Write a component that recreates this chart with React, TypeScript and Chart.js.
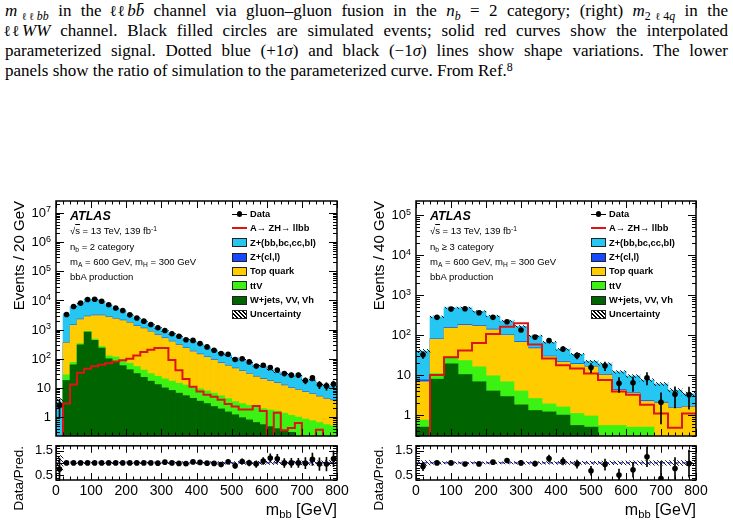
import React, { useEffect, useRef } from 'react';
import { Chart, registerables } from 'chart.js';

Chart.register(...registerables);

const SANS = "'Liberation Sans', Arial, Helvetica, sans-serif";
const SERIF = "'Liberation Serif', 'Times New Roman', serif";
Chart.defaults.font.family = SANS;

const CYAN = 'rgb(38,198,242)';
const BLUE = 'rgb(22,72,255)';
const ORANGE = 'rgb(255,204,0)';
const LIME = 'rgb(60,242,18)';
const DKGREEN = 'rgb(0,100,0)';
const RED = 'rgb(222,20,20)';
const NAVY = 'rgb(0,0,170)';

// m_bb axis labels and ratio-panel labels
const massTicks = [0, 100, 200, 300, 400, 500, 600, 700, 800];
const ratioTicks = [0.5, 1, 1.5];
const ratioTickLabels = ['0.5', '1', '1.5'];

// ---------------- n_b = 2 category (20 GeV bins) ----------------
const edgesNb2 = [0, 20, 40, 60, 80, 100, 120, 140, 160, 180, 200, 220, 240, 260, 280, 300, 320, 340, 360, 380, 400,
  420, 440, 460, 480, 500, 520, 540, 560, 580, 600, 620, 640, 660, 680, 700, 720, 740, 760, 780, 800];
const dataNb2 = [2.5, 3300, 6200, 8100, 10800, 11000, 9400, 7100, 5500, 4500,
  3200, 2500, 1950, 1500, 1150, 930, 720, 590, 450, 425,
  330, 255, 195, 150, 142, 94, 100, 78, 56, 60,
  50, 41, 31, 27.5, 27.5, 18, 22, 13, 11.7, 13.5];
const dataErrNb2 = [1.6, 57, 79, 90, 104, 105, 97, 84, 74, 67,
  57, 50, 44, 39, 34, 30, 27, 24, 21, 21,
  18, 16, 14, 12, 12, 9.7, 10, 8.8, 7.5, 7.7,
  7.1, 6.4, 5.6, 5.2, 5.2, 4.2, 4.7, 3.6, 3.4, 3.7];
// upper edge of each stacked band (cumulative from the bottom of the stack)
const zhfNb2 = [3.3, 3300, 6200, 8100, 10800, 11000, 9400, 7100, 5500, 4500,
  3200, 2500, 1950, 1500, 1160, 900, 720, 600, 465, 410,
  325, 258, 200, 160, 135, 107, 95, 78, 59, 56,
  42, 35, 31, 27.5, 27.5, 18.2, 19, 13.7, 12.3, 11.5];
const zlNb2 = [null, 365, 1450, 2290, 2900, 3120, 3120, 2800, 2440, 2130,
  1770, 1350, 1120, 860, 665, 520, 400, 307, 237, 182,
  146, 116, 94, 73, 59, 48, 38.5, 31, 25, 21,
  17.7, 15, 12.5, 10.2, 8.8, 7.4, 6.3, 5.2, 4.4, 3.85];
const topNb2 = [null, 350, 1400, 2200, 2800, 3000, 3000, 2700, 2350, 2050,
  1700, 1300, 1080, 830, 640, 500, 385, 295, 228, 175,
  140, 112, 90, 70, 57, 46, 37, 30, 24, 20,
  17, 14.4, 12, 9.8, 8.5, 7.1, 6.1, 5, 4.2, 3.7];
const ttvNb2 = [null, 28, 75, 330, 870, 470, 260, 125, 115, 90,
  70, 54, 41, 31, 25, 20.5, 17, 14.5, 12.5, 11,
  9.3, 7.9, 6.6, 5.4, 4.3, 3.4, 2.9, 2.5, 2.2, 1.95,
  1.75, 1.6, 1.35, 1.15, 1.0, 0.85, 0.75, 0.65, 0.55, 0.5];
const wjetsNb2 = [null, 18, 62, 300, 820, 430, 230, 100, 78, 58,
  42, 31, 23, 17, 13, 10, 8.2, 6.6, 5.4, 4.4,
  3.5, 2.9, 2.3, 1.9, 1.5, 1.2, 0.95, 0.8, 0.65, 0.55,
  0.47, 0.4, 0.35, 0.3, null, null, null, null, null, null];
const uncNb2 = [0.3, 0.04, 0.03, 0.03, 0.03, 0.03, 0.03, 0.03, 0.03, 0.03,
  0.03, 0.03, 0.035, 0.035, 0.035, 0.035, 0.04, 0.04, 0.04, 0.04,
  0.045, 0.045, 0.045, 0.05, 0.05, 0.05, 0.055, 0.055, 0.06, 0.06,
  0.065, 0.065, 0.07, 0.07, 0.075, 0.08, 0.08, 0.085, 0.09, 0.1];
const signalNb2 = [0.05, 2.9, 13, 33, 45, 55, 62, 70, 80, 88,
  100, 128, 170, 205, 235, 235, 90, 40, 20, 11,
  7.5, 5.8, 5, 3.9, 2.8, 2.3, 1.8, 1.8, 2.4, 1.6,
  0.05, 1.4, 0.35, 0.42, 0.63, 0.05, 0.05, 0.37, 0.05, 0.05];
const ratioNb2 = [0.75, 1.0, 1.0, 1.0, 1.0, 1.0, 1.0, 1.0, 1.0, 1.0,
  1.0, 1.0, 1.0, 1.0, 0.99, 1.03, 1.0, 0.98, 0.97, 1.04,
  1.02, 0.99, 0.98, 0.93, 1.05, 0.88, 1.06, 1.0, 0.95, 1.08,
  1.2, 1.17, 1.0, 1.0, 1.0, 0.99, 1.15, 0.95, 0.95, 1.17];
const ratioErrNb2 = [0.45, 0.02, 0.01, 0.01, 0.01, 0.01, 0.01, 0.01, 0.01, 0.02,
  0.02, 0.02, 0.02, 0.03, 0.03, 0.03, 0.04, 0.04, 0.05, 0.05,
  0.06, 0.06, 0.07, 0.08, 0.09, 0.1, 0.11, 0.12, 0.13, 0.14,
  0.17, 0.18, 0.18, 0.19, 0.19, 0.23, 0.25, 0.26, 0.28, 0.32];
const logTicksNb2 = [1, 10, 100, 1000, 1e4, 1e5, 1e6, 1e7];
const logExpNb2 = ['', '', '2', '3', '4', '5', '6', '7'];

// ---------------- n_b >= 3 category (40 GeV bins) ----------------
const edgesNb3 = [0, 40, 80, 120, 160, 200, 240, 280, 320, 360, 400, 440, 480, 520, 560, 600, 640, 680, 720, 760, 800];
const dataNb3 = [32, 277, 445, 453, 362, 277, 215, 134, 89, 73, 45, 31, 15.4, 17, 6.2, 6.4, 8.6, 2.1, 3.3, 3.2];
const dataErrNb3 = [6, 17, 21, 21, 19, 17, 15, 12, 9.5, 8.5, 6.7, 5.6, 3.9, 4.1, 2.5, 2.5, 2.9, 1.5, 1.8, 1.8];
const zhfNb3 = [40, 285, 480, 480, 390, 300, 225, 165, 95, 66, 44, 33, 22, 19, 12, 9.5, 7.5, 6, 4.2, 3.4];
const zlNb3 = [7.6, 81, 156, 182, 175, 141, 102, 69, 48, 30, 22, 19.3, 16.6, 10.4, 4.4, 3.6, 2.3, 2.1, 1.55, 1.65];
const topNb3 = [6.8, 78, 150, 175, 168, 136, 98, 66, 46, 29, 21, 18.6, 16, 10, 4.2, 3.5, 2.2, 2.0, 1.5, 1.6];
const ttvNb3 = [0.75, 11, 29, 23, 16, 9.6, 6.8, 4, 2.6, 1.9, 1.6, 1.1, 0.95, 0.55, 0.55, 0.5, 0.5, null, null, null];
const wjetsNb3 = [0.5, 7.9, 19, 10.3, 6.8, 4, 2.9, 1.8, 1.3, 1.2, 1.0, 0.55, 0.5, null, null, null, null, null, null, null];
const uncNb3 = [0.1, 0.05, 0.04, 0.04, 0.04, 0.045, 0.045, 0.05, 0.05, 0.055, 0.06, 0.06, 0.065, 0.07, 0.075, 0.08, 0.085, 0.09, 0.1, 0.1];
const signalNb3 = [0.05, 10, 28, 41, 63, 107, 162, 196, 58, 26, 17.6, 14.5, 11, 7.5, 3.9, 3.2, 1.8, 1.1, 0.48, 1.1];
const ratioNb3 = [0.85, 1.0, 1.0, 0.95, 0.96, 1.03, 1.1, 1.0, 0.97, 1.18, 1.07, 0.95, 0.68, 0.93, 0.5, 0.72, 1.25, 0.36, 0.77, 0.97];
const ratioErrNb3 = [0.17, 0.06, 0.05, 0.05, 0.05, 0.06, 0.08, 0.09, 0.1, 0.14, 0.15, 0.17, 0.18, 0.23, 0.25, 0.3, 0.4, 0.7, 0.45, 0.55];
const logTicksNb3 = [1, 10, 100, 1000, 1e4, 1e5];
const logExpNb3 = ['', '', '2', '3', '4', '5'];

type Num = number | null;
interface PlotSpec {
  edges: number[]; data: number[]; dataErr: number[];
  zhf: Num[]; zl: Num[]; top: Num[]; ttv: Num[]; wjets: Num[];
  unc: number[]; signal: number[]; ratio: number[]; ratioErr: number[];
  yMin: number; yMax: number; logTicks: number[]; logExp: string[];
}

const plotNb2: PlotSpec = {
  edges: edgesNb2, data: dataNb2, dataErr: dataErrNb2,
  zhf: zhfNb2, zl: zlNb2, top: topNb2, ttv: ttvNb2, wjets: wjetsNb2,
  unc: uncNb2, signal: signalNb2, ratio: ratioNb2, ratioErr: ratioErrNb2,
  yMin: 0.224, yMax: 2.57e7, logTicks: logTicksNb2, logExp: logExpNb2,
};
const plotNb3: PlotSpec = {
  edges: edgesNb3, data: dataNb3, dataErr: dataErrNb3,
  zhf: zhfNb3, zl: zlNb3, top: topNb3, ttv: ttvNb3, wjets: wjetsNb3,
  unc: uncNb3, signal: signalNb3, ratio: ratioNb3, ratioErr: ratioErrNb3,
  yMin: 0.3, yMax: 2.24e5, logTicks: logTicksNb3, logExp: logExpNb3,
};

const centersOf = (edges: number[]) => edges.slice(0, -1).map((e, i) => (e + edges[i + 1]) / 2);

function makeHatch(): any {
  const c = document.createElement('canvas');
  c.width = 4; c.height = 4;
  const g = c.getContext('2d');
  if (!g) return 'rgba(0,0,0,0.4)';
  g.strokeStyle = '#000';
  g.lineWidth = 0.9;
  g.beginPath();
  g.moveTo(-1, -1); g.lineTo(5, 5);
  g.moveTo(-1, 3); g.lineTo(1, 5);
  g.moveTo(3, -1); g.lineTo(5, 1);
  g.stroke();
  return g.createPattern(c, 'repeat') || 'rgba(0,0,0,0.4)';
}

// inward tick marks on all four sides, frame, and 10^n labels
function massTickMarks(): [number, number][] {
  const out: [number, number][] = [];
  for (let v = 0; v <= 800; v += 20) out.push([v, v % 100 === 0 ? 7 : 3.5]);
  return out;
}
function logTickMarks(): [number, number][] {
  const out: [number, number][] = [];
  for (let k = -1; k <= 7; k++) for (let m = 1; m <= 9; m++) out.push([m * Math.pow(10, k), m === 1 ? 8 : 4]);
  return out;
}
function ratioTickMarks(): [number, number][] {
  const out: [number, number][] = [];
  for (let i = 3; i <= 17; i++) out.push([i / 10, i % 5 === 0 ? 8 : 4]);
  return out;
}

function frameDecor(cfg: { xTicks: [number, number][]; yTicks: [number, number][]; logTicks?: number[]; logExp?: string[] }) {
  return {
    id: 'frameDecor',
    afterDatasetsDraw(chart: any) {
      const { ctx, chartArea: a } = chart;
      const xs = chart.scales.x;
      const ys = chart.scales.y;
      ctx.save();
      ctx.strokeStyle = '#000';
      ctx.lineWidth = 1;
      ctx.beginPath();
      cfg.xTicks.forEach(([v, len]) => {
        const px = Math.round(xs.getPixelForValue(v)) + 0.5;
        ctx.moveTo(px, a.bottom); ctx.lineTo(px, a.bottom - len);
        ctx.moveTo(px, a.top); ctx.lineTo(px, a.top + len);
      });
      cfg.yTicks.forEach(([v, len]) => {
        if (v < ys.min - 1e-9 || v > ys.max + 1e-9) return;
        const py = Math.round(ys.getPixelForValue(v)) + 0.5;
        ctx.moveTo(a.left, py); ctx.lineTo(a.left + len, py);
        ctx.moveTo(a.right, py); ctx.lineTo(a.right - len, py);
      });
      ctx.stroke();
      ctx.lineWidth = 1.5;
      ctx.strokeRect(a.left, a.top, a.right - a.left, a.bottom - a.top);
      ctx.restore();
    },
    afterDraw(chart: any) {
      if (!cfg.logTicks || !cfg.logExp) return;
      const { ctx, chartArea: a } = chart;
      const ys = chart.scales.y;
      ctx.save();
      ctx.fillStyle = '#000';
      cfg.logTicks.forEach((v, i) => {
        const py = ys.getPixelForValue(v);
        const exp = cfg.logExp![i];
        let right = a.left - 5;
        if (exp) {
          ctx.font = `9px ${SANS}`;
          const w = ctx.measureText(exp).width;
          ctx.textAlign = 'left';
          ctx.textBaseline = 'alphabetic';
          ctx.fillText(exp, right - w, py - 0.5);
          right -= w;
        }
        ctx.font = `13px ${SANS}`;
        ctx.textAlign = 'right';
        ctx.textBaseline = 'middle';
        ctx.fillText(v === 1 ? '1' : '10', right, py + 0.5);
      });
      ctx.restore();
    },
  };
}

function barSet(values: Num[], centers: number[], color: any, order: number) {
  return {
    type: 'bar', order, grouped: false, barPercentage: 1, categoryPercentage: 1, borderWidth: 0,
    backgroundColor: color, data: centers.map((x, i) => ({ x, y: values[i] })),
  };
}
function rangeSet(lo: number[], hi: number[], centers: number[], color: any, order: number, thickness?: number) {
  const ds: any = {
    type: 'bar', order, grouped: false, barPercentage: 1, categoryPercentage: 1, borderWidth: 0,
    backgroundColor: color, data: centers.map((x, i) => ({ x, y: [lo[i], hi[i]] })),
  };
  if (thickness) ds.barThickness = thickness;
  return ds;
}
function pointSet(values: number[], centers: number[]) {
  return {
    type: 'line', order: 0, showLine: false, pointRadius: 2.8, pointBorderWidth: 0,
    pointBackgroundColor: '#000', data: centers.map((x, i) => ({ x, y: values[i] })),
  };
}

const massAxis = {
  type: 'linear', min: 0, max: 800, offset: false,
  afterBuildTicks: (s: any) => { s.ticks = massTicks.map((value) => ({ value })); },
};

function mainConfig(p: PlotSpec, hatch: any, padRight: number): any {
  const c = centersOf(p.edges);
  const total = p.zhf as number[];
  return {
    type: 'bar',
    data: {
      datasets: [
        pointSet(p.data, c),
        rangeSet(p.data.map((v, i) => v - p.dataErr[i]), p.data.map((v, i) => v + p.dataErr[i]), c, '#000', 1, 1),
        {
          type: 'line', order: 2, stepped: true, fill: false, borderColor: RED, borderWidth: 2, pointRadius: 0,
          data: p.edges.map((x, i) => ({ x, y: p.signal[Math.min(i, p.signal.length - 1)] })),
        },
        rangeSet(total.map((t, i) => t * (1 - p.unc[i])), total.map((t, i) => t * (1 + p.unc[i])), c, hatch, 3),
        barSet(p.wjets, c, DKGREEN, 4),
        barSet(p.ttv, c, LIME, 5),
        barSet(p.top, c, ORANGE, 6),
        barSet(p.zl, c, BLUE, 7),
        barSet(p.zhf, c, CYAN, 8),
      ],
    },
    options: {
      responsive: false, animation: false, devicePixelRatio: 1, events: [],
      layout: { padding: { left: 56, top: 11, right: padRight, bottom: 2 } },
      plugins: { legend: { display: false }, tooltip: { enabled: false } },
      scales: {
        x: { ...massAxis, display: false },
        y: { type: 'logarithmic', min: p.yMin, max: p.yMax, display: false },
      },
    },
    plugins: [frameDecor({ xTicks: massTickMarks(), yTicks: logTickMarks(), logTicks: p.logTicks, logExp: p.logExp })],
  };
}

function ratioConfig(p: PlotSpec, hatch: any, padRight: number): any {
  const c = centersOf(p.edges);
  return {
    type: 'bar',
    data: {
      datasets: [
        pointSet(p.ratio, c),
        rangeSet(p.ratio.map((v, i) => v - p.ratioErr[i]), p.ratio.map((v, i) => v + p.ratioErr[i]), c, '#000', 1, 1),
        {
          type: 'line', order: 2, borderColor: NAVY, borderWidth: 1, borderDash: [4, 3], pointRadius: 0, fill: false,
          data: [{ x: 0, y: 1 }, { x: 800, y: 1 }],
        },
        rangeSet(p.unc.map((u) => 1 - u), p.unc.map((u) => 1 + u), c, hatch, 3),
      ],
    },
    options: {
      responsive: false, animation: false, devicePixelRatio: 1, events: [],
      layout: { padding: { left: 0, top: 10, right: padRight, bottom: 0 } },
      plugins: { legend: { display: false }, tooltip: { enabled: false } },
      scales: {
        x: {
          ...massAxis,
          afterFit: (s: any) => { s.height = 47; },
          grid: { display: false, drawTicks: false },
          border: { display: false },
          ticks: { color: '#000', font: { size: 14, family: SANS }, padding: 3, maxRotation: 0, autoSkip: false, callback: (v: any) => String(v) },
        },
        y: {
          type: 'linear', min: 0.3, max: 1.7,
          afterBuildTicks: (s: any) => { s.ticks = ratioTicks.map((value) => ({ value })); },
          afterFit: (s: any) => { s.width = 56; },
          grid: { display: false, drawTicks: false },
          border: { display: false },
          ticks: {
            color: '#000', font: { size: 13, family: SANS }, padding: 3,
            callback: (v: any) => ratioTickLabels[ratioTicks.indexOf(Number(v))] ?? '',
          },
        },
      },
    },
    plugins: [frameDecor({ xTicks: massTickMarks(), yTicks: ratioTickMarks() })],
  };
}

const Sub = ({ children }: any) => (
  <sub style={{ fontSize: '70%', lineHeight: 0, verticalAlign: '-0.3em' }}>{children}</sub>
);
const Sup = ({ children }: any) => (
  <sup style={{ fontSize: '70%', lineHeight: 0, verticalAlign: '0.45em' }}>{children}</sup>
);
// script ell, set tight as in typeset math
const Ell = ({ n = 1 }: { n?: number }) => (
  <span style={{ fontFamily: "'DejaVu Serif', serif", fontSize: '0.9em', letterSpacing: '-0.3em', marginLeft: '-0.08em', marginRight: '0.1em' }}>
    {'\u2113'.repeat(n)}
  </span>
);

function VTitle({ text, cx, top, size }: { text: string; cx: number; top: number; size: number }) {
  const W = 200;
  const H = Math.round(size * 1.2);
  return (
    <div style={{
      position: 'absolute', left: cx - H / 2, top: top + W, width: W, height: H, lineHeight: `${H}px`,
      fontFamily: SANS, fontSize: size, textAlign: 'right', whiteSpace: 'nowrap',
      transform: 'rotate(-90deg)', transformOrigin: '0 0', color: '#000',
    }}>{text}</div>
  );
}

const legendRowY = [214, 228.3, 242.7, 257, 271.3, 285.7, 300, 314.3];
const legendEntries = [
  { kind: 'data', label: 'Data' },
  { kind: 'line', label: 'A\u2192 ZH\u2192 llbb' },
  { kind: 'box', color: CYAN, label: 'Z+(bb,bc,cc,bl)' },
  { kind: 'box', color: BLUE, label: 'Z+(cl,l)' },
  { kind: 'box', color: ORANGE, label: 'Top quark' },
  { kind: 'box', color: LIME, label: 'ttV' },
  { kind: 'box', color: DKGREEN, label: 'W+jets, VV, Vh' },
  { kind: 'hatch', label: 'Uncertainty' },
];

function LegendMarker({ kind, color }: any) {
  const wrap: any = { position: 'relative', width: 15, height: 12, flex: 'none' };
  if (kind === 'data') {
    return (
      <div style={wrap}>
        <div style={{ position: 'absolute', left: 0, top: 5.5, width: 15, height: 1, background: '#000' }} />
        <div style={{ position: 'absolute', left: 4.7, top: 3.2, width: 5.6, height: 5.6, borderRadius: '50%', background: '#000' }} />
      </div>
    );
  }
  if (kind === 'line') {
    return (
      <div style={wrap}>
        <div style={{ position: 'absolute', left: 0, top: 5, width: 15, height: 2, background: RED }} />
      </div>
    );
  }
  const fill = kind === 'hatch'
    ? 'repeating-linear-gradient(45deg, #000 0px, #000 0.9px, #fff 0.9px, #fff 2.8px)'
    : color;
  return (
    <div style={wrap}>
      <div style={{ position: 'absolute', left: 0, top: 1.5, width: 15, height: 9, boxSizing: 'border-box', border: '1px solid #222', background: fill }} />
    </div>
  );
}

function AtlasPlot({ p, x0, width, frameLeft, frameRight, category, binLabel }: any) {
  const mainRef = useRef<HTMLCanvasElement>(null);
  const ratioRef = useRef<HTMLCanvasElement>(null);
  const padRight = width - (frameRight - x0);

  useEffect(() => {
    const hatch = makeHatch();
    const main = new Chart(mainRef.current as HTMLCanvasElement, mainConfig(p, hatch, padRight));
    const ratio = new Chart(ratioRef.current as HTMLCanvasElement, ratioConfig(p, hatch, padRight));
    return () => { main.destroy(); ratio.destroy(); };
  }, []);

  const infoLeft = frameLeft + 14;
  const legLeft = frameRight - 105;
  const info: any = { position: 'absolute', left: infoLeft, fontFamily: SANS, fontSize: 9.5, lineHeight: '12px', whiteSpace: 'nowrap', color: '#000' };

  return (
    <>
      <canvas ref={mainRef} width={width} height={250} style={{ position: 'absolute', left: x0, top: 190, width, height: 250 }} />
      <canvas ref={ratioRef} width={width} height={92} style={{ position: 'absolute', left: x0, top: 435, width, height: 92 }} />

      <VTitle text={`Events / ${binLabel} GeV`} cx={frameLeft - 37} top={201} size={15} />
      <VTitle text="Data/Pred." cx={frameLeft - 37} top={446} size={13.5} />
      <div style={{ position: 'absolute', right: 733 - frameRight, top: 500, fontFamily: SANS, fontSize: 16, lineHeight: '20px', whiteSpace: 'nowrap', color: '#000' }}>
        m<Sub>bb</Sub> [GeV]
      </div>

      <div style={{ ...info, top: 209, fontSize: 12.5, lineHeight: '15px', fontWeight: 'bold', fontStyle: 'italic' }}>ATLAS</div>
      <div style={{ ...info, top: 225 }}>
        {'\u221A'}<span style={{ textDecoration: 'overline' }}>s</span> = 13 TeV, 139 fb<Sup>-1</Sup>
      </div>
      <div style={{ ...info, top: 240.5 }}>n<Sub>b</Sub> {category}</div>
      <div style={{ ...info, top: 255.5 }}>m<Sub>A</Sub> = 600 GeV, m<Sub>H</Sub> = 300 GeV</div>
      <div style={{ ...info, top: 270.5 }}>bbA production</div>

      {legendEntries.map((e, i) => (
        <div key={i} style={{
          position: 'absolute', left: legLeft, top: legendRowY[i] - 6, height: 12, display: 'flex', alignItems: 'center',
          fontFamily: SANS, fontWeight: 'bold', fontSize: 9.3, whiteSpace: 'nowrap', color: '#000',
        }}>
          <LegendMarker kind={e.kind} color={(e as any).color} />
          <span style={{ marginLeft: 3 }}>{e.label}</span>
        </div>
      ))}
    </>
  );
}

function Caption() {
  const base: any = {
    position: 'absolute', left: 5, width: 723, fontFamily: SERIF, fontSize: 17, lineHeight: '20px',
    whiteSpace: 'nowrap', color: '#000',
  };
  const just: any = { textAlign: 'justify', textAlignLast: 'justify' };
  return (
    <>
      <div style={{ ...base, ...just, top: 1 }}>
        <i>m</i><Sub><Ell n={2} /><i>bb</i></Sub> in the <Ell n={2} /><i>bb{'\u0304'}</i> channel via gluon–gluon fusion in the <i>n</i><Sub><i>b</i></Sub> = 2 category; (right) <i>m</i><Sub>2<Ell />4<i>q</i></Sub> in the
      </div>
      <div style={{ ...base, ...just, top: 21 }}>
        <Ell n={2} /><i>WW</i> channel. Black filled circles are simulated events; solid red curves show the interpolated
      </div>
      <div style={{ ...base, ...just, top: 41 }}>
        parameterized signal. Dotted blue (+1<i>σ</i>) and black (−1<i>σ</i>) lines show shape variations. The lower
      </div>
      <div style={{ ...base, top: 61 }}>
        panels show the ratio of simulation to the parameterized curve. From Ref.<Sup>8</Sup>
      </div>
    </>
  );
}

export default function App() {
  return (
    <div style={{ position: 'absolute', left: 0, top: 0, width: 733, height: 527, background: '#fff', overflow: 'hidden' }}>
      <Caption />
      <AtlasPlot p={plotNb2} x0={0} width={370} frameLeft={56} frameRight={337} category="= 2 category" binLabel="20" />
      <AtlasPlot p={plotNb3} x0={360} width={373} frameLeft={416} frameRight={696} category={'\u2265 3 category'} binLabel="40" />
    </div>
  );
}
